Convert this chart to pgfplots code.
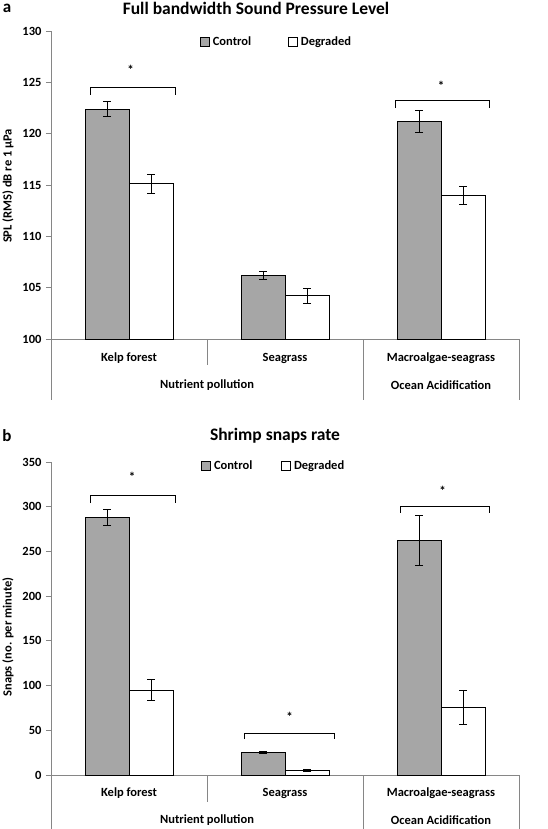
\documentclass[border=0pt]{standalone}
\usepackage{fontspec}
\setmainfont{Carlito}
\usepackage{pgfplots}
\pgfplotsset{compat=1.18}
\definecolor{ctrl}{RGB}{166,166,166}
\definecolor{axgray}{RGB}{134,134,134}
\tikzset{catlab/.style={font=\bfseries\fontsize{12.5}{14}\selectfont, anchor=center},
  star/.style={font=\bfseries\fontsize{13}{14}\selectfont},
  sep/.style={axgray, line width=0.8pt}}
\begin{document}
\begin{tikzpicture}
\useasboundingbox (0pt,0pt) rectangle (548pt,-829pt);
\pgfplotsset{
  mybars/.style={
    scale only axis, width=468pt, clip=false,
    xmin=-0.5, xmax=2.5, xtick=\empty,
    axis x line*=bottom, axis y line*=left,
    axis line style={axgray, line width=0.8pt, -},
    ytick style={axgray, line width=0.8pt},
    tick align=outside, major tick length=5pt,
    /pgf/number format/assume math mode=true,
    ticklabel style={font=\bfseries\fontsize{12.5}{14}\selectfont},
    yticklabel style={xshift=-1pt},
    ybar=0pt, bar width=44pt,
    every axis plot/.append style={draw=black, line width=1pt},
    legend image code/.code={\draw[#1, line width=0.7pt] (0pt,-4.5pt) rectangle (9pt,4.5pt);},
    legend style={draw=none, fill=none, legend columns=2, anchor=center,
      font=\bfseries\fontsize{12.5}{14}\selectfont,
      /tikz/every odd column/.append style={column sep=1pt}},
    error bars/y dir=both, error bars/y explicit,
    error bars/error bar style={line width=0.8pt, black},
    error bars/error mark options={rotate=90, mark size=4pt, line width=0.8pt, black},
  },
}
% ---------- Panel a ----------
\node[font=\bfseries\fontsize{17}{20}\selectfont] at (7pt,-8pt) {a};
\node[font=\bfseries\fontsize{17.5}{20}\selectfont] at (256pt,-8pt) {Full bandwidth Sound Pressure Level};
\node[rotate=90, font=\bfseries\fontsize{12.5}{14}\selectfont] at (8pt,-186pt) {SPL (RMS) dB re 1 μPa};
\begin{axis}[mybars, at={(51pt,-339pt)}, anchor=south west, height=308pt,
  ymin=100, ymax=130, ytick={100,105,...,130},
  legend style={at={(0.482,0.964)}, /tikz/every even column/.append style={column sep=35pt}}]
\addplot[fill=ctrl] table[x=x, y=y, y error=e] {
x y e
0 122.4 0.75
1 106.2 0.35
2 121.2 1.1
};
\addplot[fill=white] table[x=x, y=y, y error=e] {
x y e
0 115.1 0.9
1 104.2 0.7
2 114.0 0.9
};
\legend{Control, Degraded}
\draw[line width=0.9pt] (axis cs:-0.25,123.8) -- (axis cs:-0.25,124.5) -- (axis cs:0.3,124.5) -- (axis cs:0.3,123.8);
\node[star] at (axis cs:0.01,126.2) {*};
\draw[line width=0.9pt] (axis cs:1.71,122.5) -- (axis cs:1.71,123.2) -- (axis cs:2.31,123.2) -- (axis cs:2.31,122.5);
\node[star] at (axis cs:2.0,124.7) {*};
% category table
\draw[sep] (axis cs:-0.5,100) -- ([yshift=-61pt]axis cs:-0.5,100);
\draw[sep] (axis cs:0.5,100) -- ([yshift=-26pt]axis cs:0.5,100);
\draw[sep] (axis cs:1.5,100) -- ([yshift=-61pt]axis cs:1.5,100);
\draw[sep] (axis cs:2.5,100) -- ([yshift=-61pt]axis cs:2.5,100);
\node[catlab] at ([yshift=-19pt]axis cs:0,100) {Kelp forest};
\node[catlab] at ([yshift=-19pt]axis cs:1,100) {Seagrass};
\node[catlab] at ([yshift=-19pt]axis cs:2,100) {Macroalgae-seagrass};
\node[catlab] at ([yshift=-46pt]axis cs:0.5,100) {Nutrient pollution};
\node[catlab] at ([yshift=-46pt]axis cs:2,100) {Ocean Acidification};
\end{axis}
% ---------- Panel b ----------
\node[font=\bfseries\fontsize{17}{20}\selectfont] at (7pt,-436pt) {b};
\node[font=\bfseries\fontsize{17.5}{20}\selectfont] at (275pt,-436pt) {Shrimp snaps rate};
\node[rotate=90, font=\bfseries\fontsize{12.5}{14}\selectfont] at (8pt,-637pt) {Snaps (no. per minute)};
\begin{axis}[mybars, at={(51pt,-775pt)}, anchor=south west, height=313pt,
  ymin=0, ymax=350, ytick={0,50,...,350},
  legend style={at={(0.476,0.987)}, /tikz/every even column/.append style={column sep=27pt}}]
\addplot[fill=ctrl] table[x=x, y=y, y error=e] {
x y e
0 288 9
1 25 1.2
2 262 28
};
\addplot[fill=white] table[x=x, y=y, y error=e] {
x y e
0 95 12
1 5 1
2 76 19
};
\legend{Control, Degraded}
\draw[line width=0.9pt] (axis cs:-0.25,304) -- (axis cs:-0.25,313) -- (axis cs:0.3,313) -- (axis cs:0.3,304);
\node[star] at (axis cs:0.02,333) {*};
\draw[line width=0.9pt] (axis cs:0.74,40) -- (axis cs:0.74,47) -- (axis cs:1.32,47) -- (axis cs:1.32,40);
\node[star] at (axis cs:1.03,65) {*};
\draw[line width=0.9pt] (axis cs:1.74,293) -- (axis cs:1.74,300) -- (axis cs:2.31,300) -- (axis cs:2.31,293);
\node[star] at (axis cs:2.01,318) {*};
% category table
\draw[sep] (axis cs:-0.5,0) -- ([yshift=-54pt]axis cs:-0.5,0);
\draw[sep] (axis cs:0.5,0) -- ([yshift=-27pt]axis cs:0.5,0);
\draw[sep] (axis cs:1.5,0) -- ([yshift=-54pt]axis cs:1.5,0);
\draw[sep] (axis cs:2.5,0) -- ([yshift=-54pt]axis cs:2.5,0);
\node[catlab] at ([yshift=-18pt]axis cs:0,0) {Kelp forest};
\node[catlab] at ([yshift=-18pt]axis cs:1,0) {Seagrass};
\node[catlab] at ([yshift=-18pt]axis cs:2,0) {Macroalgae-seagrass};
\node[catlab] at ([yshift=-45pt]axis cs:0.5,0) {Nutrient pollution};
\node[catlab] at ([yshift=-45pt]axis cs:2,0) {Ocean Acidification};
\end{axis}
\end{tikzpicture}
\end{document}
